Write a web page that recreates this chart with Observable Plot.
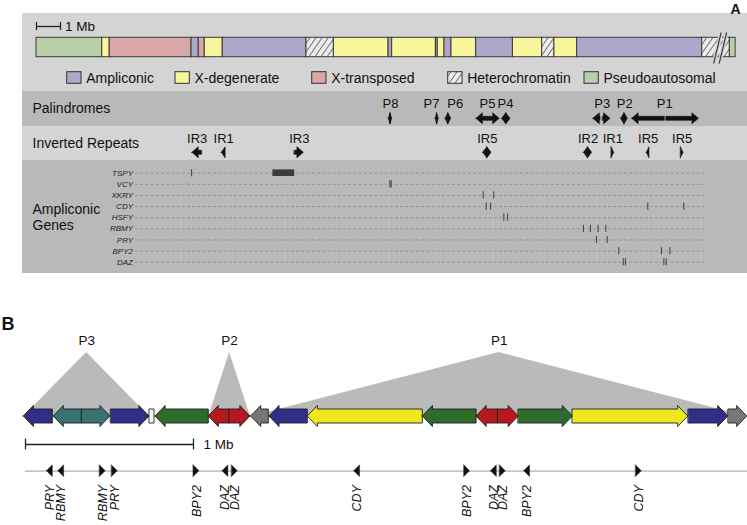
<!DOCTYPE html>
<html><head><meta charset="utf-8">
<script src="https://cdn.jsdelivr.net/npm/d3@7"></script>
<script src="https://cdn.jsdelivr.net/npm/@observablehq/plot@0.6"></script>
<style>
html,body{margin:0;padding:0;background:#fff;}
#chart{width:747px;height:525px;position:relative;overflow:hidden;}
#chart svg{display:block;}
</style></head><body><div id="chart"></div>
<script>
// ================= PANEL A DATA (positions in Mb) =================
const regionStart = [0, 2.74, 3.05, 6.46, 6.76, 7.01, 7.76, 11.25, 12.39, 14.67, 14.82, 16.64, 16.72, 17.0, 17.29, 18.32, 19.85, 21.07, 21.58, 22.53, 27.74, 28.89];
const regionEnd   = [2.74, 3.05, 6.46, 6.76, 7.01, 7.76, 11.25, 12.39, 14.67, 14.82, 16.64, 16.72, 17.0, 17.29, 18.32, 19.85, 21.07, 21.58, 22.53, 27.74, 28.89, 29.13];
const regionClass = ["Pseudoautosomal","X-degenerate","X-transposed","Ampliconic","X-transposed","X-degenerate","Ampliconic","Heterochromatin","X-degenerate","Ampliconic","X-degenerate","Ampliconic","X-degenerate","Ampliconic","X-degenerate","Ampliconic","X-degenerate","Heterochromatin","X-degenerate","Ampliconic","Heterochromatin","Pseudoautosomal"];
const legendClasses = ["Ampliconic","X-degenerate","X-transposed","Heterochromatin","Pseudoautosomal"];
const classColors   = ["#aaa9c9","#f9f59b","#d9a7a7","url(#hatchA)","#b9cfa9"];
const breakAt = [28.37, 28.6];

const palNames    = ["P8","P7","P6","P5","P4","P3","P2","P1"];
const palLeftArm  = [[14.68,14.75],[16.63,16.695],[17.04,17.16],[18.33,18.81],[19.40,19.575],[23.20,23.50],[24.36,24.50],[24.82,26.18]];
const palRightArm = [[14.75,14.82],[16.695,16.76],[17.16,17.28],[18.81,19.30],[19.575,19.75],[23.61,23.92],[24.50,24.64],[26.25,27.60]];
const palLabelX   = [14.75,16.46,17.45,18.79,19.54,23.57,24.51,26.18];

const irNames  = ["IR3","IR1","IR3","IR5","IR2","IR1","IR5","IR5"];
const irStart  = [6.49, 7.72, 10.76, 18.61, 22.81, 23.96, 25.43, 26.85];
const irEnd    = [6.90, 7.88, 11.14, 18.96, 23.15, 24.07, 25.54, 26.96];
const irOrient = ["left","left","right","both","both","right","left","right"];

const geneNames  = ["TSPY","VCY","XKRY","CDY","HSFY","RBMY","PRY","BPY2","DAZ"];
const geneCopies = [[6.46],[14.72,14.78],[18.61,19.05],[18.74,18.92,25.47,26.97],[19.47,19.63],[22.79,23.08,23.40,23.72],[23.33,23.78],[24.26,26.04,26.39],[24.45,24.54,26.14,26.24]];
const tspyArray  = [9.85, 10.76];

// ================= PANEL B DATA (positions in Mb) =================
const ampStart  = [-0.010,0.168,0.3375,0.510,0.740,0.774,1.091,1.216,1.343,1.452,1.680,2.365,2.685,2.814,2.936,3.258,3.948,4.186];
const ampEnd    = [0.1625,0.3375,0.506,0.738,0.768,1.091,1.216,1.339,1.448,1.680,2.365,2.685,2.814,2.936,3.258,3.945,4.183,4.296];
const ampDir    = ["left","left","right","right","none","left","left","right","left","left","left","left","left","right","right","right","right","right"];
const ampFamily = ["blue","teal","teal","blue","white","green","red","red","gray","blue","yellow","green","red","red","green","yellow","blue","gray"];
const familyNames  = ["blue","teal","green","red","gray","yellow","white"];
const familyColors = ["#312e87","#377372","#2f6b2b","#b3191f","#777777","#ede71c","#ffffff"];

const palBNames = ["P3","P2","P1"];
const palBStart = [-0.010, 1.091, 1.343];
const palBEnd   = [0.738, 1.339, 4.296];

const markerGene = ["PRY","RBMY","RBMY","PRY","BPY2","DAZ","DAZ","CDY","BPY2","DAZ","DAZ","BPY2","CDY"];
const markerPos  = [0.145,0.2125,0.460,0.5315,1.018,1.190,1.246,1.974,2.629,2.788,2.841,2.986,3.651];
const markerDir  = ["left","left","right","right","right","left","right","left","right","left","right","left","right"];

// ================= helpers =================
const FONT = "'Liberation Sans', Arial, Helvetica, sans-serif";
function arrowPts(id, x1, x2, dir, yc, body, head, hl, color) {
  const len = x2 - x1, h = Math.min(hl, len);
  let pts;
  if (dir === "right") {
    pts = [];
    if (len > h) pts.push([x1, yc-body, yc+body], [x2-h, yc-body, yc+body]);
    else pts.push([x1, yc-head, yc+head]);
    if (len > h) pts.push([x2-h, yc-head, yc+head]);
    pts.push([x2, yc, yc]);
  } else if (dir === "left") {
    pts = [[x1, yc, yc], [x1+h, yc-head, yc+head]];
    if (len > h) pts.push([x1+h, yc-body, yc+body], [x2, yc-body, yc+body]);
  } else {
    pts = [[x1, yc-body, yc+body], [x2, yc-body, yc+body]];
  }
  return pts.map(([x, a, b]) => ({id, x, y1: a, y2: b, color}));
}
const colorOf = Object.fromEntries(legendClasses.map((c, i) => [c, classColors[i]]));
const famColor = Object.fromEntries(familyNames.map((c, i) => [c, familyColors[i]]));

// ================= PANEL A =================
const pxA = p => (p - 36) / 24;               // layout helper (legend etc.)
const LIGHT = "#d4d4d4", DARK = "#b9b9b9";
const bands = [{y1: 13, y2: 90.5, c: LIGHT}, {y1: 90.5, y2: 126, c: DARK}, {y1: 126, y2: 160, c: LIGHT}, {y1: 160, y2: 273, c: DARK}];
const BAR = [37.3, 56.7];
const segs = regionStart.map((s, i) => ({x1: s, x2: regionEnd[i], fill: colorOf[regionClass[i]]}));

const PAL_Y = 118.3, IR_Y = 152.3;
let palPolys = [];
palNames.forEach((n, i) => {
  palPolys = palPolys.concat(arrowPts(n+"L", palLeftArm[i][0], palLeftArm[i][1], "left", PAL_Y, 2, 5.5, 0.27, "#111"));
  palPolys = palPolys.concat(arrowPts(n+"R", palRightArm[i][0], palRightArm[i][1], "right", PAL_Y, 2, 5.5, 0.27, "#111"));
});
let irPolys = [];
irNames.forEach((n, i) => {
  const s = irStart[i], e = irEnd[i];
  if (irOrient[i] === "both") {
    const m = (s + e) / 2;
    irPolys = irPolys.concat(arrowPts(n+i+"L", s, m, "left", IR_Y, 2, 5.5, 0.27, "#111"));
    irPolys = irPolys.concat(arrowPts(n+i+"R", m, e, "right", IR_Y, 2, 5.5, 0.27, "#111"));
  } else {
    irPolys = irPolys.concat(arrowPts(n+i, s, e, irOrient[i], IR_Y, 2, 5.5, 0.27, "#111"));
  }
});
const geneY = i => 172.7 + i * 11.13;
const geneRows = geneNames.map((g, i) => ({g, y: geneY(i)}));
const geneTicks = geneNames.flatMap((g, i) => geneCopies[i].map(x => ({x, y: geneY(i)})));

const legendItems = legendClasses.map((c, i) => ({c, fill: classColors[i], sx: pxA([66.7,175,311.7,447.7,584][i])}));
const sqW = 14.3 / 24;

const plotA = Plot.plot({
  width: 747, height: 300,
  marginTop: 0, marginBottom: 0, marginLeft: 0, marginRight: 0,
  x: {domain: [-1.5, 29.625], range: [0, 747], axis: null},
  y: {domain: [0, 300], range: [0, 300], axis: null},
  color: {type: "identity"},
  style: {background: "transparent", fontFamily: FONT},
  marks: [
    Plot.rect(bands, {x1: pxA(22), x2: 29.625, y1: "y1", y2: "y2", fill: "c"}),
    // chromosome
    Plot.rect(segs, {x1: "x1", x2: "x2", y1: BAR[0], y2: BAR[1], fill: "fill", stroke: "#3a3a3a", strokeWidth: 1}),
    // break marks
    Plot.link(breakAt, {x1: d => d - 0.155, y1: 63, x2: d => d + 0.155, y2: 32, stroke: LIGHT, strokeWidth: 4}),
    Plot.link(breakAt, {x1: d => d - 0.155, y1: 63, x2: d => d + 0.155, y2: 32, stroke: "#333", strokeWidth: 1.1}),
    // scale bar
    Plot.ruleY([26], {x1: 0, x2: 1, stroke: "#222", strokeWidth: 1.3}),
    Plot.ruleX([0, 1], {y1: 22, y2: 30, stroke: "#222", strokeWidth: 1.3}),
    Plot.text(["1 Mb"], {x: pxA(64.5), y: 26, textAnchor: "start", fontSize: 13.5, fill: "#111"}),
    // legend
    Plot.rect(legendItems, {x1: "sx", x2: d => d.sx + sqW, y1: 71.7, y2: 83.3, fill: "fill", stroke: "#333", strokeWidth: 1}),
    Plot.text(legendItems, {x: d => d.sx + sqW + pxA(40.7) - pxA(36), y: 77.8, text: "c", textAnchor: "start", fontSize: 14, fill: "#111"}),
    // row titles
    Plot.text(["Palindromes"], {x: pxA(32), y: 108.5, textAnchor: "start", fontSize: 14, fill: "#111"}),
    Plot.text(["Inverted Repeats"], {x: pxA(32), y: 143, textAnchor: "start", fontSize: 14, fill: "#111"}),
    Plot.text(["Ampliconic\nGenes"], {x: pxA(32), y: 216, textAnchor: "start", fontSize: 14, lineHeight: 1.15, fill: "#111"}),
    // palindromes
    Plot.area(palPolys, {x1: "x", y1: "y1", y2: "y2", z: "id", fill: "#111", stroke: "#111", strokeWidth: 0.6}),
    Plot.text(palNames, {x: (d, i) => palLabelX[i], y: 103, text: d => d, fontSize: 13, fill: "#111"}),
    // inverted repeats
    Plot.area(irPolys, {x1: "x", y1: "y1", y2: "y2", z: "id", fill: "#111", stroke: "#111", strokeWidth: 0.6}),
    Plot.text(irNames, {x: (d, i) => (irStart[i] + irEnd[i]) / 2, y: 138, text: d => d, fontSize: 13, fill: "#111"}),
    // ampliconic genes
    Plot.ruleY(geneRows, {y: "y", x1: pxA(135), x2: pxA(705), stroke: "#8a8a8a", strokeWidth: 0.8, strokeDasharray: "3,2.2"}),
    Plot.text(geneRows, {x: pxA(132.5), y: "y", text: "g", textAnchor: "end", fontSize: 8, fontStyle: "italic", fill: "#222"}),
    Plot.ruleX(geneTicks, {x: "x", y1: d => d.y - 3.6, y2: d => d.y + 3.6, stroke: "#4a4a4a", strokeWidth: 1.1}),
    Plot.rect([tspyArray], {x1: d => d[0], x2: d => d[1], y1: geneY(0) - 3.3, y2: geneY(0) + 3.3, fill: "#3c3c3c"}),
    Plot.text(["A"], {x: pxA(740), y: 9, textAnchor: "end", fontSize: 14, fontWeight: "bold", fill: "#111"})
  ]
});

// hatch pattern
const defsA = document.createElementNS("http://www.w3.org/2000/svg", "defs");
defsA.innerHTML = '<pattern id="hatchA" patternUnits="userSpaceOnUse" width="5" height="5" patternTransform="rotate(35)"><rect width="5" height="5" fill="#ececec"/><line x1="0" y1="0" x2="0" y2="5" stroke="#333" stroke-width="1.3"/></pattern>';
plotA.insertBefore(defsA, plotA.firstChild);

// ================= PANEL B =================
const pxB = p => (p - 25) / 168;
const ARR_Y = 416;
let ampPolys = [];
ampStart.forEach((s, i) => {
  ampPolys = ampPolys.concat(arrowPts("a"+i, s, ampEnd[i], ampDir[i], ARR_Y, 7, 10.5, 0.06, famColor[ampFamily[i]]));
});
const triPolys = palBNames.flatMap((n, i) => {
  const m = (palBStart[i] + palBEnd[i]) / 2;
  return [
    {id: n, x: palBStart[i], y1: ARR_Y, y2: ARR_Y},
    {id: n, x: m, y1: ARR_Y, y2: 352},
    {id: n, x: palBEnd[i], y1: ARR_Y, y2: ARR_Y}
  ];
});
let markPolys = [];
markerPos.forEach((p, i) => {
  markPolys = markPolys.concat(arrowPts("m"+i, p - 0.0175, p + 0.0175, markerDir[i], 470.7, 1, 5.9, 0.05, "#111"));
});

const plotB = Plot.plot({
  width: 747, height: 225,
  marginTop: 0, marginBottom: 0, marginLeft: 0, marginRight: 0,
  x: {domain: [-25 / 168, 722 / 168], range: [0, 747], axis: null},
  y: {domain: [300, 525], range: [0, 225], axis: null},
  color: {type: "identity"},
  style: {background: "transparent", fontFamily: FONT},
  marks: [
    Plot.area(triPolys, {x1: "x", y1: "y1", y2: "y2", z: "id", fill: "#bababa"}),
    Plot.text(palBNames, {x: (d, i) => (palBStart[i] + palBEnd[i]) / 2, y: 340, text: d => d, fontSize: 13.5, fill: "#111"}),
    Plot.area(ampPolys, {x1: "x", y1: "y1", y2: "y2", z: "id", fill: "color", stroke: "#1e1e1e", strokeWidth: 0.9}),
    // scale bar
    Plot.ruleY([444], {x1: 0, x2: 1, stroke: "#222", strokeWidth: 1.3}),
    Plot.ruleX([0, 1], {y1: 438.5, y2: 449.5, stroke: "#222", strokeWidth: 1.3}),
    Plot.text(["1 Mb"], {x: pxB(203), y: 444.5, textAnchor: "start", fontSize: 13.5, fill: "#111"}),
    // gene line
    Plot.ruleY([470.7], {x1: 0, x2: 722 / 168, stroke: "#c6c6c6", strokeWidth: 1.8}),
    Plot.area(markPolys, {x1: "x", y1: "y1", y2: "y2", z: "id", fill: "#111", stroke: "#111", strokeWidth: 0.4}),
    Plot.text(markerGene, {x: (d, i) => markerPos[i], y: 484.5, text: d => d, rotate: -90, textAnchor: "end", fontSize: 12.5, fontStyle: "italic", fill: "#111"}),
    Plot.text(["B"], {x: pxB(7.5), y: 323.5, fontSize: 18, fontWeight: "bold", fill: "#111"})
  ]
});

const chart = document.getElementById("chart");
chart.appendChild(plotA);
chart.appendChild(plotB);
</script>
</body></html>
